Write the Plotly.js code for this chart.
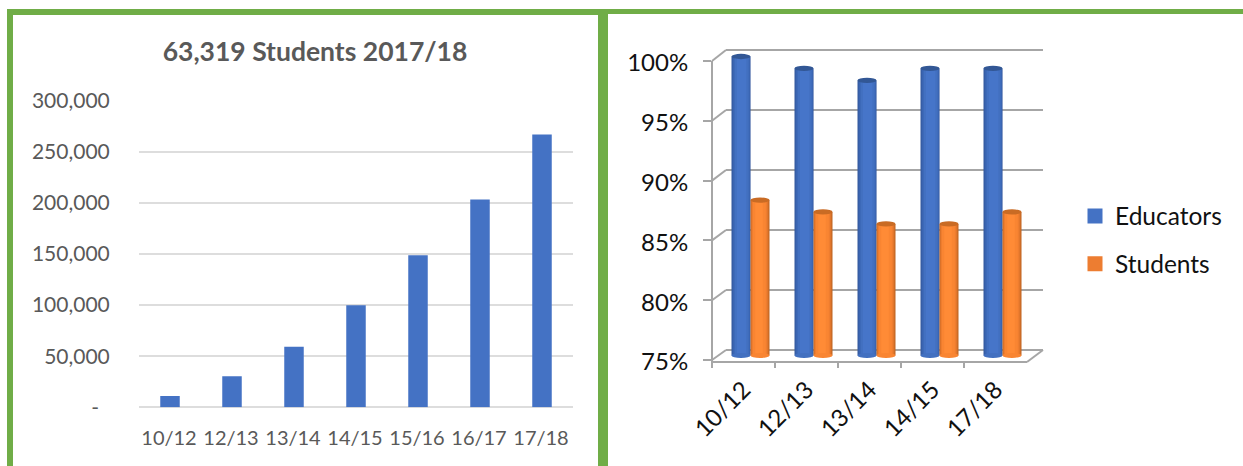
<!DOCTYPE html>
<html>
<head>
<meta charset="utf-8">
<script src="https://cdn.plot.ly/plotly-3.0.1.min.js"></script>
<style>html,body{margin:0;padding:0;background:#fff;overflow:hidden}</style>
</head>
<body>
<div id="chart" style="width:1243px;height:466px"></div>
<script>
// ---- data ----
const enrolYears = ['10/12','12/13','13/14','14/15','15/16','16/17','17/18'];
const enrolStudents = [11000,30500,59300,99800,148700,203400,267000];
const enrolTicks = [0,50000,100000,150000,200000,250000,300000];
const enrolTickText = ['-\u00A0\u00A0','50,000','100,000','150,000','200,000','250,000','300,000'];
const passYears = ['10/12','12/13','13/14','14/15','17/18'];
const educators = [100,99,98,99,99];
const students = [88,87,86,86,87];
const passTicks = [75,80,85,90,95,100];
const passTickText = ['75%','80%','85%','90%','95%','100%'];

// ---- helpers: layout pixels to paper fractions ----
const W = 1243, H = 466;
const px = x => x / W, py = y => 1 - y / H;
const GREEN = '#70AD47', GRID3D = '#a6a6a6';
const FONT = 'Lato, Carlito, sans-serif';

// cylinder shading: [offset from left of bar, width, colour] as fractions of one bar
const blueBands = [[0,1,'#34599E'],[0.05,0.93,'#3861AC'],[0.11,0.84,'#3D69B8'],[0.18,0.72,'#4270C0'],[0.28,0.5,'#4675C9']];
const orangeBands = [[0,1,'#BD6423'],[0.03,0.92,'#D9722A'],[0.07,0.82,'#EE7D2F'],[0.13,0.68,'#F98532'],[0.25,0.4,'#FF8B36']];
const barW = 19 / 63;

const traces = [{
  type:'bar', x:enrolYears, y:enrolStudents, xaxis:'x', yaxis:'y',
  marker:{color:'#4472C4'}, width:19.5/62, showlegend:false, hoverinfo:'x+y'
}];

function addCylinders(values, bands, start, capColor, bodyColor, xa, ya) {
  bands.forEach(b => traces.push({
    type:'bar', x:passYears, y:values.map(v => v - 75), base:75,
    width:barW*b[1], offset:barW*(start+b[0]),
    marker:{color:b[2]}, xaxis:xa, yaxis:ya, showlegend:false, hoverinfo:'skip'
  }));
  const shapes = [];
  values.forEach((v,i) => {
    const x0 = i + barW*start, x1 = x0 + barW;
    shapes.push({type:'circle', xref:xa, yref:ya, x0, x1, y0:v-0.22, y1:v+0.22,
      fillcolor:capColor, line:{width:0}, layer:'above'});
    shapes.push({type:'circle', xref:xa, yref:ya, x0, x1, y0:75-0.2, y1:75+0.2,
      fillcolor:bodyColor, line:{width:0}, layer:'above'});
  });
  return shapes;
}
const capShapes = [
  ...addCylinders(educators, blueBands, -1, '#325795', '#4270C0', 'x4', 'y4'),
  ...addCylinders(students, orangeBands, 0, '#C96B24', '#F98532', 'x4', 'y4')
];

// legend-only entries
[['Educators','#4472C4'],['Students','#ED7D31']].forEach(s => traces.push({
  type:'scatter', mode:'markers', name:s[0], x:[null], y:[null], xaxis:'x2', yaxis:'y2',
  marker:{symbol:'square', size:15, color:s[1]}, legendgroup:s[0], showlegend:true, hoverinfo:'skip'
}));

// 3-D frame of the right chart
const frontTop=61, frontBot=360, backTop=50, backBot=350;
const frontL=712, backL=726, backR=1043, floorR=1027;
const line = (x0,y0,x1,y1,color,width) => ({type:'line', xref:'paper', yref:'paper',
  x0:px(x0), y0:py(y0), x1:px(x1), y1:py(y1), line:{color, width}, layer:'below'});
const frame = [ line(frontL,frontTop,frontL,frontBot+3,GRID3D,2) ];
passTicks.forEach((t,i) => {
  const f = frontBot + (frontTop-frontBot)*i/(passTicks.length-1);
  const b = backBot + (backTop-backBot)*i/(passTicks.length-1);
  frame.push(line(frontL,f,backL,b,GRID3D,2));
});
frame.push(line(frontL,frontBot+2,floorR,frontBot+2,GRID3D,2));
frame.push(line(floorR,frontBot+2,backR,backBot,GRID3D,2));

// green panel borders
const rect = (x0,y0,x1,y1) => ({type:'rect', xref:'paper', yref:'paper',
  x0:px(x0), y0:py(y0), x1:px(x1), y1:py(y1), fillcolor:GREEN, line:{width:0}, layer:'above'});
const borders = [ rect(7,9,13,H), rect(7,9,608,15), rect(598,9,608,H), rect(608,9,W,14) ];

const layout = {
  width:W, height:H, margin:{l:0,r:0,t:0,b:0}, paper_bgcolor:'#fff', plot_bgcolor:'rgba(0,0,0,0)',
  barmode:'overlay', font:{family:FONT, color:'#595959'},
  // left chart
  xaxis:{domain:[px(139),px(573)], anchor:'y', type:'category', tickfont:{size:20,color:'#595959'},
    showgrid:false, showline:false, ticks:'outside', ticklen:13, tickcolor:'rgba(0,0,0,0)', tickangle:0, ticklabelshift:-1},
  yaxis:{domain:[py(407.3),py(100.7)], anchor:'x', range:[0,300000], tickvals:enrolTicks, ticktext:enrolTickText,
    tickfont:{size:21,color:'#595959'}, gridcolor:'#DDDDDD', gridwidth:1.5, zeroline:true, zerolinecolor:'#DDDDDD', zerolinewidth:1.5,
    ticks:'outside', ticklen:24, tickcolor:'rgba(0,0,0,0)', showline:false},
  // right chart: front plane axes (tick labels, floor ticks)
  xaxis2:{domain:[px(frontL),px(floorR)], anchor:'y2', type:'category', categoryorder:'array', categoryarray:passYears,
    range:[-0.5,4.5], tickson:'boundaries', ticks:'outside', ticklen:5, tickwidth:1.5, tickcolor:GRID3D,
    tickvals:passYears, tickangle:-45, tickfont:{size:24,color:'#111111'}, ticklabelstandoff:8,
    showgrid:false, showline:false, zeroline:false},
  yaxis2:{domain:[py(frontBot+2),py(frontTop)], anchor:'x2', range:[74.83,100], tickvals:passTicks, ticktext:passTickText,
    ticks:'outside', ticklen:8, tickwidth:2, tickcolor:GRID3D, tickfont:{size:24,color:'#111111'},
    ticklabelstandoff:10, ticklabelshift:2, showgrid:false, showline:false, zeroline:false},
  // right chart: gridlines on the back wall (lower subplot number, so drawn under the cylinders)
  xaxis3:{domain:[px(backL),px(backR)], anchor:'y3', range:[0,1], visible:false},
  yaxis3:{domain:[py(backBot+1.2),py(backTop-1.2)], anchor:'x3', range:[74.9,100.1], tickvals:passTicks,
    showticklabels:false, ticks:'', gridcolor:GRID3D, gridwidth:2, zeroline:false, showline:false},
  // right chart: cylinders sit at mid depth
  xaxis4:{domain:[px(frontL+7),px(floorR+7)], anchor:'y4', type:'category', categoryorder:'array', categoryarray:passYears,
    range:[-0.5,4.5], visible:false},
  yaxis4:{domain:[py(355.5+6),py(56.5-6)], anchor:'x4', range:[75-6/11.96,100+6/11.96], visible:false},
  title:{text:'<b>63,319 Students 2017/18</b>', font:{size:26.5,color:'#595959',family:FONT},
    x:315/W, xanchor:'center', y:py(52), yanchor:'middle'},
  legend:{x:px(1075), y:py(193.5), xanchor:'left', yanchor:'top', font:{size:24.5,color:'#111111'},
    tracegroupgap:13, itemsizing:'trace', bgcolor:'rgba(0,0,0,0)', traceorder:'grouped'},
  shapes:[...frame, ...capShapes, ...borders],
  showlegend:true
};
// back-wall axis carries an invisible trace so that its gridlines are drawn
traces.unshift({type:'scatter', mode:'none', x:[0,1], y:[75,100], xaxis:'x3', yaxis:'y3', showlegend:false, hoverinfo:'skip'});
// front axis needs its categories
traces.unshift({type:'scatter', mode:'none', x:passYears, y:educators, xaxis:'x2', yaxis:'y2', showlegend:false, hoverinfo:'skip'});

Plotly.newPlot('chart', traces, layout, {displayModeBar:false, responsive:false});
</script>
</body>
</html>
